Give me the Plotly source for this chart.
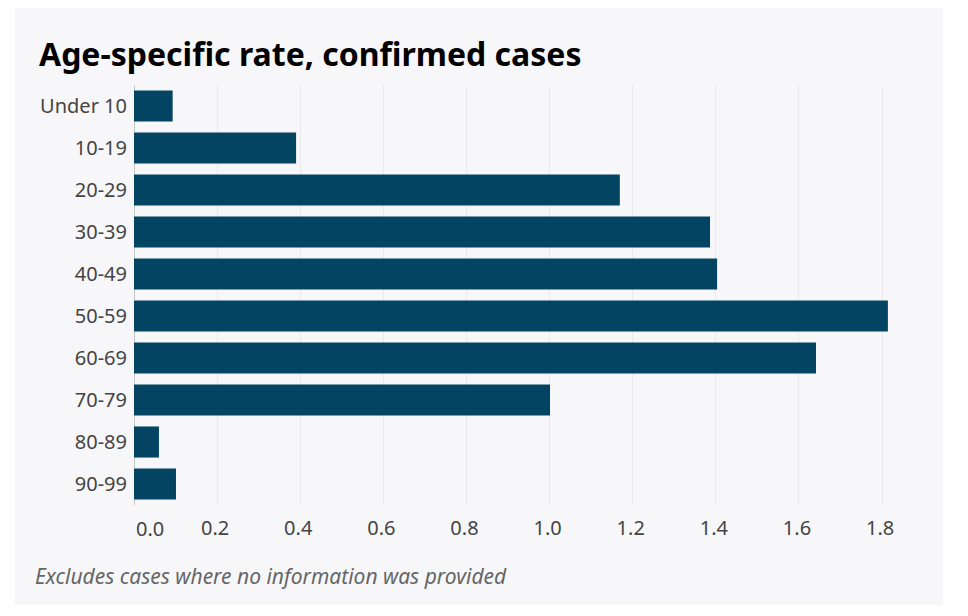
import plotly.graph_objects as go

categories = ["Under 10", "10-19", "20-29", "30-39", "40-49", "50-59", "60-69", "70-79", "80-89", "90-99"]
values = [0.093, 0.39, 1.169, 1.386, 1.403, 1.814, 1.641, 1.001, 0.06, 0.101]
tick_vals = [0.0, 0.2, 0.4, 0.6, 0.8, 1.0, 1.2, 1.4, 1.6, 1.8]
tick_text = ["0.0", "0.2", "0.4", "0.6", "0.8", "1.0", "1.2", "1.4", "1.6", "1.8"]

title_text = "Age-specific rate, confirmed cases"
note_text = "Excludes cases where no information was provided"

PANEL = "#f7f7f9"
BAR = "#034463"
FONT = "Noto Sans"

fig = go.Figure(go.Bar(
    x=values, y=categories, orientation="h",
    marker=dict(color=BAR, line=dict(width=0)),
    hoverinfo="x+y",
))

# page body has an 8px margin; figure coords = window coords - 8
OFF = 8
W, H = 952, 600
L, T = 134 - OFF, 85 - OFF
RIGHT, BOTTOM = 920 - OFF, 505 - OFF
R, B = W - RIGHT, H - BOTTOM
pw = RIGHT - L
ph = BOTTOM - T


def px(xw):
    return (xw - OFF - L) / pw


def py(yw):
    return (BOTTOM - (yw - OFF)) / ph


# first tick label is drawn left-aligned at the axis origin (as in the reference)
axis_ticktext = [""] + tick_text[1:]

fig.update_layout(
    width=W, height=H,
    margin=dict(l=L, r=R, t=T, b=B),
    paper_bgcolor="white",
    plot_bgcolor="rgba(0,0,0,0)",
    bargap=0.26,
    showlegend=False,
    font=dict(family=FONT, color="#444"),
    xaxis=dict(
        range=[0, pw / 415.6],
        tickvals=tick_vals, ticktext=axis_ticktext,
        showgrid=True, gridcolor="#e9e9ec", gridwidth=1,
        zeroline=True, zerolinecolor="#c8c8c8", zerolinewidth=1,
        ticks="outside", ticklen=5, tickcolor="rgba(0,0,0,0)",
        ticklabelshift=-2,
        tickfont=dict(size=20, color="#444", family=FONT),
        showline=False, fixedrange=True,
    ),
    yaxis=dict(
        categoryorder="array", categoryarray=categories,
        autorange="reversed",
        showgrid=False, zeroline=False, showline=False,
        ticks="outside", ticklen=2, tickcolor="rgba(0,0,0,0)",
        tickfont=dict(size=20, color="#444", family=FONT),
        fixedrange=True,
    ),
    shapes=[dict(
        type="rect", xref="paper", yref="paper", layer="below",
        x0=px(15), x1=px(943),
        y0=py(605), y1=py(8),
        fillcolor=PANEL, line=dict(width=0),
    )],
    annotations=[
        dict(text="<b>" + title_text + "</b>", xref="paper", yref="paper",
             x=px(37), y=py(53), xanchor="left", yanchor="middle",
             showarrow=False, font=dict(size=32, color="#000", family=FONT)),
        dict(text="<i>" + note_text + "</i>", xref="paper", yref="paper",
             x=px(33), y=py(576), xanchor="left", yanchor="middle",
             showarrow=False, font=dict(size=21, color="#666", family=FONT)),
        dict(text=tick_text[0], xref="x", yref="paper",
             x=tick_vals[0], y=py(528), xanchor="left", yanchor="middle",
             xshift=0, showarrow=False,
             font=dict(size=20, color="#444", family=FONT)),
    ],
)

fig.write_html("out.html")
